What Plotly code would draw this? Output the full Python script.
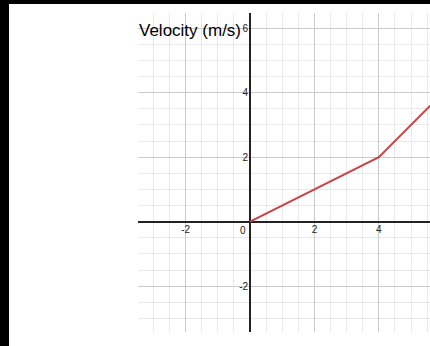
import plotly.graph_objects as go

# velocity-time graph
time_s = [0, 4, 6]
velocity = [0, 2, 4]

x_ticks = [-2, 2, 4]
y_ticks = [-2, 2, 4, 6]
x_range = [-3.48, 5.59]
y_range = [-3.42, 6.47]

font = "Liberation Sans, Arial, sans-serif"
W, H = 430, 346
x_dom = [138 / W, 1]
y_dom = [14 / H, 1 - 13 / H]

# where the zero lines sit (paper coords)
x_pos = y_dom[0] + (0 - y_range[0]) / (y_range[1] - y_range[0]) * (y_dom[1] - y_dom[0])
y_pos = x_dom[0] + (0 - x_range[0]) / (x_range[1] - x_range[0]) * (x_dom[1] - x_dom[0])

fig = go.Figure(go.Scatter(x=time_s, y=velocity, mode='lines',
                           line=dict(color='#c74440', width=2), hoverinfo='skip'))

fig.update_layout(
    width=W, height=H, autosize=False,
    margin=dict(l=0, r=0, t=0, b=0),
    paper_bgcolor='white', plot_bgcolor='white',
    showlegend=False,
    font=dict(family=font, size=10, color='#222'),
    xaxis=dict(range=x_range, domain=x_dom, anchor='free', position=x_pos,
               tickmode='array', tickvals=x_ticks, ticktext=[str(v) for v in x_ticks],
               ticks='', showline=False,
               showgrid=True, gridcolor='#cbcbcb', gridwidth=1,
               zeroline=True, zerolinecolor='#222', zerolinewidth=1.5,
               minor=dict(tickmode='linear', tick0=0, dtick=0.5, showgrid=True,
                          gridcolor='#e9e9e9', gridwidth=1),
               fixedrange=True),
    yaxis=dict(range=y_range, domain=y_dom, anchor='free', position=y_pos,
               tickmode='array', tickvals=y_ticks, ticktext=[str(v) for v in y_ticks],
               ticks='', showline=False, ticklabelstandoff=2,
               showgrid=True, gridcolor='#cbcbcb', gridwidth=1,
               zeroline=True, zerolinecolor='#222', zerolinewidth=1.5,
               minor=dict(tickmode='linear', tick0=0, dtick=0.5, showgrid=True,
                          gridcolor='#e9e9e9', gridwidth=1),
               fixedrange=True),
)

# origin label and axis title
fig.add_annotation(x=0, y=0, text='0', showarrow=False, xanchor='right', yanchor='top',
                   xshift=-2, yshift=-1, font=dict(family=font, size=10, color='#222'))
fig.add_annotation(x=x_range[0], y=6, text='Velocity (m/s)', showarrow=False,
                   xanchor='left', yanchor='middle', xshift=-1, yshift=-2,
                   font=dict(family=font, size=17, color='black'))

# black frame edges from the screenshot
fig.add_shape(type='rect', xref='paper', yref='paper', x0=0, x1=9 / W, y0=0, y1=1,
              fillcolor='black', line_width=0)
fig.add_shape(type='rect', xref='paper', yref='paper', x0=0, x1=1, y0=1 - 4 / H, y1=1,
              fillcolor='black', line_width=0)

fig.write_html("out.html", config={'displayModeBar': False},
               post_script="document.body.style.margin='0';")
